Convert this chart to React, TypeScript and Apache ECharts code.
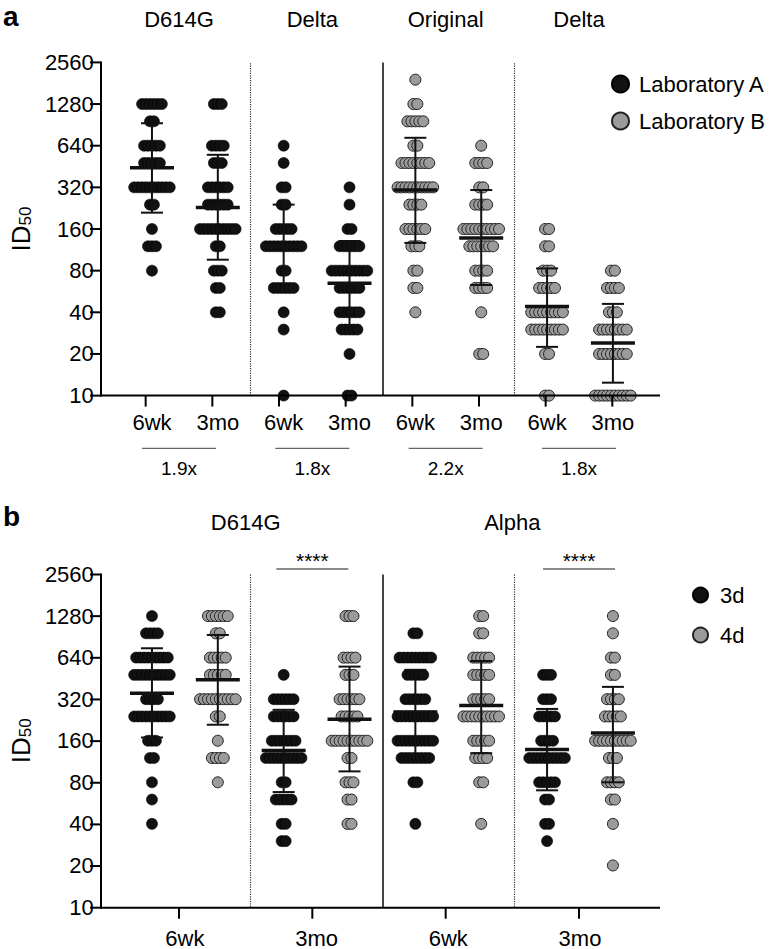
import React, { useEffect, useRef } from 'react';
import * as echarts from 'echarts';

const FONT = '"Liberation Sans", Arial, Helvetica, sans-serif';

// ---------- shared axis ticks ----------
const yTickValues = [10, 20, 40, 80, 160, 320, 640, 1280, 2560];

// ---------- panel a ----------
const aTitles = ['D614G', 'Delta', 'Original', 'Delta'];
const aTickLabels = ['6wk', '3mo', '6wk', '3mo', '6wk', '3mo', '6wk', '3mo'];
const aFoldChanges = ['1.9x', '1.8x', '2.2x', '1.8x'];
const aLegend = ['Laboratory A', 'Laboratory B'];

// [ID50 titre, number of sera at that titre]
const aD614G6wk = [[1280, 6], [960, 2], [640, 5], [480, 5], [320, 10], [240, 2], [160, 1], [120, 3], [80, 1]];
const aD614G3mo = [[1280, 3], [640, 4], [480, 3], [320, 6], [240, 6], [160, 10], [120, 2], [80, 3], [60, 2], [40, 2]];
const aDeltaA6wk = [[640, 1], [480, 1], [320, 2], [240, 2], [160, 5], [120, 10], [80, 2], [60, 6], [40, 1], [30, 1], [10, 1]];
const aDeltaA3mo = [[320, 1], [240, 1], [160, 2], [120, 6], [80, 10], [60, 6], [40, 6], [30, 5], [20, 1], [10, 2]];
const aOrig6wk = [[1920, 1], [1280, 2], [960, 5], [640, 2], [480, 8], [320, 10], [240, 4], [160, 6], [120, 3], [80, 2], [60, 2], [40, 1]];
const aOrig3mo = [[640, 1], [480, 4], [320, 2], [240, 4], [160, 10], [120, 7], [80, 4], [60, 4], [40, 1], [20, 2]];
const aDeltaB6wk = [[160, 2], [120, 2], [80, 3], [60, 5], [40, 9], [30, 9], [20, 2], [10, 2]];
const aDeltaB3mo = [[80, 2], [60, 4], [40, 3], [30, 8], [20, 8], [10, 10]];

const aMean = [443, 229, 120, 65, 306, 138, 44, 24];
const aLower = [210, 96, 60, 32, 127, 63, 22.5, 12.4];
const aUpper = [930, 550, 240, 131, 730, 306, 83, 46];

// ---------- panel b ----------
const bTitles = ['D614G', 'Alpha'];
const bTickLabels = ['6wk', '3mo', '6wk', '3mo'];
const bLegend = ['3d', '4d'];
const bSignificance = ['****', '****'];

const bD614G6wk3d = [[1280, 1], [960, 4], [640, 9], [480, 10], [320, 4], [240, 10], [160, 3], [120, 2], [80, 1], [60, 1], [40, 1]];
const bD614G6wk4d = [[1280, 6], [960, 2], [640, 5], [480, 5], [320, 10], [240, 2], [160, 1], [120, 4], [80, 1]];
const bD614G3mo3d = [[480, 1], [320, 6], [240, 6], [160, 7], [120, 10], [80, 2], [60, 5], [40, 2], [30, 2]];
const bD614G3mo4d = [[1280, 3], [640, 4], [480, 3], [320, 6], [240, 5], [160, 10], [120, 2], [80, 3], [60, 2], [40, 2]];
const bAlpha6wk3d = [[960, 2], [640, 9], [480, 5], [320, 6], [240, 10], [160, 10], [120, 8], [80, 2], [40, 1]];
const bAlpha6wk4d = [[1280, 2], [960, 2], [640, 5], [480, 5], [320, 5], [240, 10], [160, 5], [120, 4], [80, 2], [40, 1]];
const bAlpha3mo3d = [[480, 3], [320, 3], [240, 5], [160, 4], [120, 10], [80, 5], [60, 2], [40, 2], [30, 1]];
const bAlpha3mo4d = [[1280, 1], [960, 1], [640, 2], [480, 2], [320, 4], [240, 5], [160, 10], [120, 3], [80, 4], [60, 2], [40, 1], [20, 1]];

const bMean = [354, 442, 136, 229, 258, 288, 138, 182];
const bLower = [169, 209, 68, 96, 126, 130, 70, 80];
const bUpper = [748, 934, 268, 551, 522, 605, 272, 393];

// ---------- layout ----------
const GRID_LEFT = 101;
const GRID_WIDTH = 559;
const OFFSET = 0.67; // first column's distance from the y axis, in column units
const X_MAX = 8.385;
const UNIT = GRID_WIDTH / X_MAX;
const SPREAD = 4 / UNIT;
const A_TOP = 62.4;
const B_TOP = 574.5;
const PLOT_H = 333.2;
const Y_MAX = 8;
const BLACK = '#121212';
const GREY = '#9b9b9b';

const L = (v: number) => Math.log2(v / 10);
const col = (i: number) => i + OFFSET;
const px = (i: number) => GRID_LEFT + col(i) * UNIT;
const py = (top: number, v: number) => top + PLOT_H - (L(v) / Y_MAX) * PLOT_H;

function swarm(groups: number[][][], positions: number[]) {
  const pts: number[][] = [];
  groups.forEach((g, gi) => {
    g.forEach(([v, n]) => {
      for (let j = 0; j < n; j++) {
        pts.push([col(positions[gi]) + (j - (n - 1) / 2) * SPREAD, L(v)]);
      }
    });
  });
  return pts;
}

function errData(mean: number[], lo: number[], hi: number[]) {
  return mean.map((m, i) => [col(i), L(m), L(lo[i]), L(hi[i])]);
}

const renderErr = (params: any, api: any) => {
  const x = api.value(0);
  const m = api.coord([x, api.value(1)]);
  const lo = api.coord([x, api.value(2)]);
  const hi = api.coord([x, api.value(3)]);
  const st = { stroke: '#111', lineWidth: 2 };
  return {
    type: 'group',
    children: [
      { type: 'line', shape: { x1: m[0], y1: lo[1], x2: m[0], y2: hi[1] }, style: st },
      { type: 'line', shape: { x1: m[0] - 11, y1: lo[1], x2: m[0] + 11, y2: lo[1] }, style: st },
      { type: 'line', shape: { x1: m[0] - 11, y1: hi[1], x2: m[0] + 11, y2: hi[1] }, style: st },
      { type: 'line', shape: { x1: m[0] - 22, y1: m[1], x2: m[0] + 22, y2: m[1] }, style: { stroke: '#111', lineWidth: 3.5 } },
    ],
  };
};

const separators = [
  { at: 1.5, type: 'dotted', color: '#333', width: 1.2 },
  { at: 3.5, type: 'solid', color: '#444', width: 2 },
  { at: 5.5, type: 'dotted', color: '#333', width: 1.2 },
];

function sepMarkLine() {
  return {
    silent: true,
    symbol: ['none', 'none'],
    label: { show: false },
    data: separators.map((s) => ({ xAxis: col(s.at), lineStyle: { type: s.type, color: s.color, width: s.width } })),
  };
}

function yAxisCfg(gridIndex: number) {
  return {
    type: 'value',
    gridIndex,
    position: 'left',
    min: 0,
    max: Y_MAX,
    interval: 1,
    axisLine: { show: false },
    axisTick: { show: false },
    splitLine: { show: false },
    axisLabel: {
      formatter: (v: number) => String(yTickValues[Math.round(v)]),
      fontSize: 22,
      fontFamily: FONT,
      color: '#000',
      margin: 14,
    },
    name: '{m|ID}{s|50}',
    nameLocation: 'middle',
    nameRotate: 90,
    nameGap: 72,
    nameTextStyle: {
      rich: {
        m: { fontSize: 26, fontFamily: FONT, color: '#000', verticalAlign: 'bottom' },
        s: { fontSize: 17, fontFamily: FONT, color: '#000', verticalAlign: 'bottom', lineHeight: 12 },
      },
    },
  };
}

function xAxisCfg(gridIndex: number, ticks: number[], labels: string[], margin: number) {
  const tv = ticks.map(col);
  return {
    type: 'value',
    gridIndex,
    position: 'bottom',
    min: 0,
    max: X_MAX,
    axisLine: { show: false },
    axisTick: { show: false },
    splitLine: { show: false },
    axisLabel: {
      customValues: tv,
      formatter: (v: number) => {
        const i = tv.findIndex((t) => Math.abs(t - v) < 1e-6);
        return i >= 0 ? labels[i] : '';
      },
      fontSize: 22,
      fontFamily: FONT,
      color: '#000',
      margin,
    },
  };
}

export default function App() {
  const ref = useRef<HTMLDivElement>(null);
  useEffect(() => {
    if (!ref.current) return;
    const chart = echarts.init(ref.current, null, { renderer: 'svg' });
    const aTicks = [0, 1, 2, 3, 4, 5, 6, 7];
    const bTicks = [0.5, 2.5, 4.5, 6.5];

    const dotStyleBlack = { color: BLACK, borderColor: '#000', borderWidth: 0.6, opacity: 1 };
    const dotStyleGrey = { color: GREY, borderColor: '#222', borderWidth: 1, opacity: 1 };

    const graphics: any[] = [];
    const addText = (text: string, x: number, y: number, size: number, weight = 'normal') =>
      graphics.push({
        type: 'text',
        x,
        y,
        silent: true,
        style: { text, fill: '#000', fontSize: size, fontFamily: FONT, fontWeight: weight, align: 'center', verticalAlign: 'middle' },
      });
    const addLine = (x1: number, y1: number, x2: number, y2: number, stroke = '#666', lineWidth = 1.3) =>
      graphics.push({ type: 'line', silent: true, z: 50, shape: { x1, y1, x2, y2 }, style: { stroke, lineWidth } });

    graphics.push({ type: 'text', x: 3, y: 2, style: { text: 'a', fill: '#000', fontSize: 28, fontWeight: 'bold', fontFamily: FONT } });
    graphics.push({ type: 'text', x: 3, y: 502, style: { text: 'b', fill: '#000', fontSize: 28, fontWeight: 'bold', fontFamily: FONT } });

    aTitles.forEach((t, i) => addText(t, px(2 * i + 0.5), 19, 22));
    aFoldChanges.forEach((t, i) => {
      const c = px(2 * i + 0.5);
      addLine(c - 37, 448.3, c + 37, 448.3);
      addText(t, c, 468, 19);
    });
    bTitles.forEach((t, i) => addText(t, px(4 * i + 1.5), 522, 22));
    bSignificance.forEach((t, i) => {
      const c = px(4 * i + 2.5);
      addLine(c - 36, 569, c + 36, 569);
      addText(t, c, 560, 21);
    });

    // axis lines and tick marks, drawn with the same layout mapping as the grids
    [
      { top: A_TOP, ticks: aTicks },
      { top: B_TOP, ticks: bTicks },
    ].forEach(({ top, ticks }) => {
      const bottom = top + PLOT_H;
      addLine(GRID_LEFT, bottom + 1, GRID_LEFT, top - 1, '#000', 2);
      addLine(GRID_LEFT - 1, bottom, GRID_LEFT + GRID_WIDTH, bottom, '#000', 2);
      yTickValues.forEach((v) => {
        const y = py(top, v);
        addLine(GRID_LEFT - 11, y, GRID_LEFT, y, '#000', 2);
      });
      ticks.forEach((t) => {
        const x = px(t);
        addLine(x, bottom, x, bottom + 11, '#000', 2);
      });
    });

    const emphasisOff = { disabled: true };

    const option: any = {
      animation: false,
      backgroundColor: '#fff',
      textStyle: { fontFamily: FONT },
      grid: [
        { left: GRID_LEFT, top: A_TOP, width: GRID_WIDTH, height: PLOT_H },
        { left: GRID_LEFT, top: B_TOP, width: GRID_WIDTH, height: PLOT_H },
      ],
      xAxis: [xAxisCfg(0, aTicks, aTickLabels, 16), xAxisCfg(1, bTicks, bTickLabels, 20)],
      yAxis: [yAxisCfg(0), yAxisCfg(1)],
      legend: [
        {
          data: aLegend,
          orient: 'vertical',
          left: 606,
          top: 68,
          itemWidth: 27,
          itemHeight: 17,
          itemGap: 15,
          icon: 'circle',
          textStyle: { fontSize: 22, fontFamily: FONT, color: '#000' },
          selectedMode: false,
        },
        {
          data: bLegend,
          orient: 'vertical',
          left: 687,
          top: 579,
          itemWidth: 29,
          itemHeight: 15,
          itemGap: 18,
          icon: 'circle',
          textStyle: { fontSize: 22, fontFamily: FONT, color: '#000' },
          selectedMode: false,
        },
      ],
      series: [
        {
          name: 'Laboratory A',
          type: 'scatter',
          xAxisIndex: 0,
          yAxisIndex: 0,
          symbolSize: 11,
          itemStyle: dotStyleBlack,
          emphasis: emphasisOff,
          data: swarm([aD614G6wk, aD614G3mo, aDeltaA6wk, aDeltaA3mo], [0, 1, 2, 3]),
          markLine: sepMarkLine(),
          z: 3,
        },
        {
          name: 'Laboratory B',
          type: 'scatter',
          xAxisIndex: 0,
          yAxisIndex: 0,
          symbolSize: 11,
          itemStyle: dotStyleGrey,
          emphasis: emphasisOff,
          data: swarm([aOrig6wk, aOrig3mo, aDeltaB6wk, aDeltaB3mo], [4, 5, 6, 7]),
          z: 3,
        },
        {
          type: 'custom',
          xAxisIndex: 0,
          yAxisIndex: 0,
          renderItem: renderErr,
          data: errData(aMean, aLower, aUpper),
          encode: { x: 0, y: 1 },
          z: 5,
          silent: true,
        },
        {
          name: '3d',
          type: 'scatter',
          xAxisIndex: 1,
          yAxisIndex: 1,
          symbolSize: 11,
          itemStyle: dotStyleBlack,
          emphasis: emphasisOff,
          data: swarm([bD614G6wk3d, bD614G3mo3d, bAlpha6wk3d, bAlpha3mo3d], [0, 2, 4, 6]),
          markLine: sepMarkLine(),
          z: 3,
        },
        {
          name: '4d',
          type: 'scatter',
          xAxisIndex: 1,
          yAxisIndex: 1,
          symbolSize: 11,
          itemStyle: dotStyleGrey,
          emphasis: emphasisOff,
          data: swarm([bD614G6wk4d, bD614G3mo4d, bAlpha6wk4d, bAlpha3mo4d], [1, 3, 5, 7]),
          z: 3,
        },
        {
          type: 'custom',
          xAxisIndex: 1,
          yAxisIndex: 1,
          renderItem: renderErr,
          data: errData(bMean, bLower, bUpper),
          encode: { x: 0, y: 1 },
          z: 5,
          silent: true,
        },
      ],
      graphic: graphics,
    };
    chart.setOption(option);
    return () => chart.dispose();
  }, []);
  return <div ref={ref} style={{ position: 'fixed', left: 0, top: 0, width: 771, height: 949, background: '#fff' }} />;
}
